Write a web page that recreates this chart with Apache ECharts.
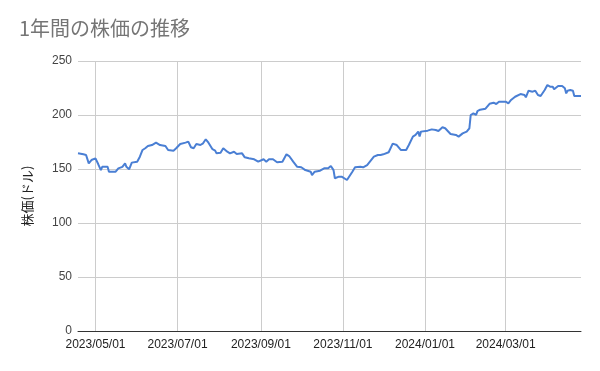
<!DOCTYPE html>
<html>
<head>
<meta charset="utf-8">
<script src="https://cdn.jsdelivr.net/npm/echarts@6/dist/echarts.min.js"></script>
<style>html,body{margin:0;padding:0;background:#fff}#c{width:600px;height:371px}</style>
</head>
<body>
<div id="c"></div>
<script>
const titleText = '1年間の株価の推移';
const yAxisName = '株価(ドル)';
const dates = [
'2023-04-18','2023-04-22','2023-04-24','2023-04-26','2023-04-28','2023-05-01','2023-05-03','2023-05-05','2023-05-06','2023-05-10',
'2023-05-11','2023-05-16','2023-05-18','2023-05-21','2023-05-23','2023-05-24','2023-05-26','2023-05-28','2023-06-01','2023-06-03',
'2023-06-05','2023-06-07','2023-06-09','2023-06-12','2023-06-15','2023-06-18','2023-06-22','2023-06-24','2023-06-28','2023-06-30',
'2023-07-03','2023-07-07','2023-07-09','2023-07-11','2023-07-13','2023-07-15','2023-07-18','2023-07-20','2023-07-22','2023-07-24',
'2023-07-27','2023-07-29','2023-07-30','2023-08-02','2023-08-04','2023-08-07','2023-08-09','2023-08-12','2023-08-14','2023-08-18',
'2023-08-20','2023-08-23','2023-08-27','2023-08-30','2023-09-03','2023-09-05','2023-09-07','2023-09-10','2023-09-13','2023-09-17',
'2023-09-20','2023-09-22','2023-09-25','2023-09-28','2023-10-01','2023-10-04','2023-10-08','2023-10-09','2023-10-11','2023-10-15',
'2023-10-18','2023-10-21','2023-10-23','2023-10-25','2023-10-26','2023-10-29','2023-10-31','2023-11-04','2023-11-05','2023-11-08',
'2023-11-10','2023-11-14','2023-11-16','2023-11-19','2023-11-20','2023-11-24','2023-11-27','2023-11-29','2023-12-01','2023-12-05',
'2023-12-08','2023-12-11','2023-12-14','2023-12-18','2023-12-20','2023-12-23','2023-12-25','2023-12-27','2023-12-28','2023-12-29',
'2024-01-03','2024-01-06','2024-01-09','2024-01-11','2024-01-14','2024-01-16','2024-01-20','2024-01-24','2024-01-26','2024-01-29',
'2024-02-01','2024-02-03','2024-02-04','2024-02-06','2024-02-08','2024-02-09','2024-02-11','2024-02-15','2024-02-18','2024-02-21',
'2024-02-23','2024-02-25','2024-03-01','2024-03-03','2024-03-05','2024-03-08','2024-03-12','2024-03-15','2024-03-16','2024-03-18',
'2024-03-21','2024-03-23','2024-03-25','2024-03-27','2024-03-30','2024-04-01','2024-04-03','2024-04-05','2024-04-06','2024-04-09',
'2024-04-12','2024-04-14','2024-04-15','2024-04-16','2024-04-18','2024-04-20','2024-04-21','2024-04-23','2024-04-26'
];
const prices = [
164.5,163.6,163.0,155.2,158.3,159.9,154.6,149.0,152.0,152.0,
147.5,147.5,150.6,152.0,155.2,152.0,149.7,155.9,156.8,161.4,
167.6,169.2,171.3,172.2,174.4,172.2,171.3,167.6,167.0,169.2,
173.2,174.4,175.3,170.1,169.2,173.2,172.2,173.8,177.5,174.4,
168.3,167.0,164.5,165.1,169.2,166.0,164.5,166.0,163.9,164.5,
160.8,159.9,159.0,156.8,159.0,156.8,159.0,159.0,156.2,156.8,
163.6,162.0,156.8,152.0,151.6,149.0,147.5,144.4,147.5,148.4,
150.6,150.6,152.8,149.0,141.4,142.9,142.9,139.8,141.4,147.5,
151.6,152.0,151.6,153.7,153.7,161.4,163.0,163.0,163.6,165.5,
173.5,172.2,167.6,167.6,172.2,180.0,181.5,184.6,180.0,184.6,
185.5,186.7,186.1,185.2,188.6,187.7,182.4,181.5,180.0,183.0,
184.6,187.7,200.0,201.5,200.0,203.6,204.9,205.8,210.4,211.4,
210.2,212.3,212.3,210.8,213.9,216.9,219.4,218.5,216.4,222.5,
221.6,222.5,218.5,217.6,223.1,227.8,226.2,226.2,223.8,226.8,
226.8,224.7,220.0,222.5,223.1,222.5,217.6,217.6,217.6
];
const xTickDates = ['2023-05-01','2023-07-01','2023-09-01','2023-11-01','2024-01-01','2024-03-01'];
const yTicks = [0, 50, 100, 150, 200, 250];

function toTs(s){ const p = s.split('-').map(Number); return new Date(p[0], p[1]-1, p[2]).getTime(); }
function fmt(v){ const d = new Date(v); const pad = n => (n<10?'0':'')+n; return d.getFullYear()+'/'+pad(d.getMonth()+1)+'/'+pad(d.getDate()); }

const xTicks = xTickDates.map(toTs);
const seriesData = dates.map((d,i)=>[toTs(d), prices[i]]);

const chart = echarts.init(document.getElementById('c'), null, {renderer:'canvas'});
chart.setOption({
  animation: false,
  backgroundColor: '#ffffff',
  title: {
    text: titleText, left: 19, top: 18, padding: 0,
    textStyle: {fontFamily: '"Noto Sans CJK JP", "Liberation Sans", sans-serif', fontSize: 20, fontWeight: 'normal', color: '#757575'}
  },
  grid: {left: 78, right: 19, top: 61, bottom: 40, containLabel: false},
  xAxis: {
    type: 'value',
    min: toTs(dates[0]), max: toTs(dates[dates.length-1]),
    axisLine: {show: true, onZero: false, lineStyle: {color: '#333333', width: 1}},
    axisTick: {show: false, customValues: xTicks},
    axisLabel: {customValues: xTicks, formatter: fmt, color: '#222222', fontSize: 12, margin: 8,
      fontFamily: '"Liberation Sans", Arial, sans-serif', hideOverlap: false},
    splitLine: {show: true, lineStyle: {color: '#cccccc', width: 1}}
  },
  yAxis: {
    type: 'value', min: yTicks[0], max: yTicks[yTicks.length-1], interval: 50,
    name: yAxisName, nameLocation: 'middle', nameGap: 44, nameRotate: 90,
    nameTextStyle: {color: '#222222', fontSize: 13, fontFamily: '"Noto Sans CJK JP", sans-serif'},
    axisLine: {show: false}, axisTick: {show: false},
    axisLabel: {color: '#444444', fontSize: 12, margin: 6, fontFamily: '"Liberation Sans", Arial, sans-serif'},
    splitLine: {show: true, lineStyle: {color: '#cccccc', width: 1}}
  },
  series: [{
    type: 'line', data: seriesData, showSymbol: false, symbol: 'none',
    lineStyle: {color: '#4a7fd4', width: 2}, z: 3
  }]
});
</script>
</body>
</html>
